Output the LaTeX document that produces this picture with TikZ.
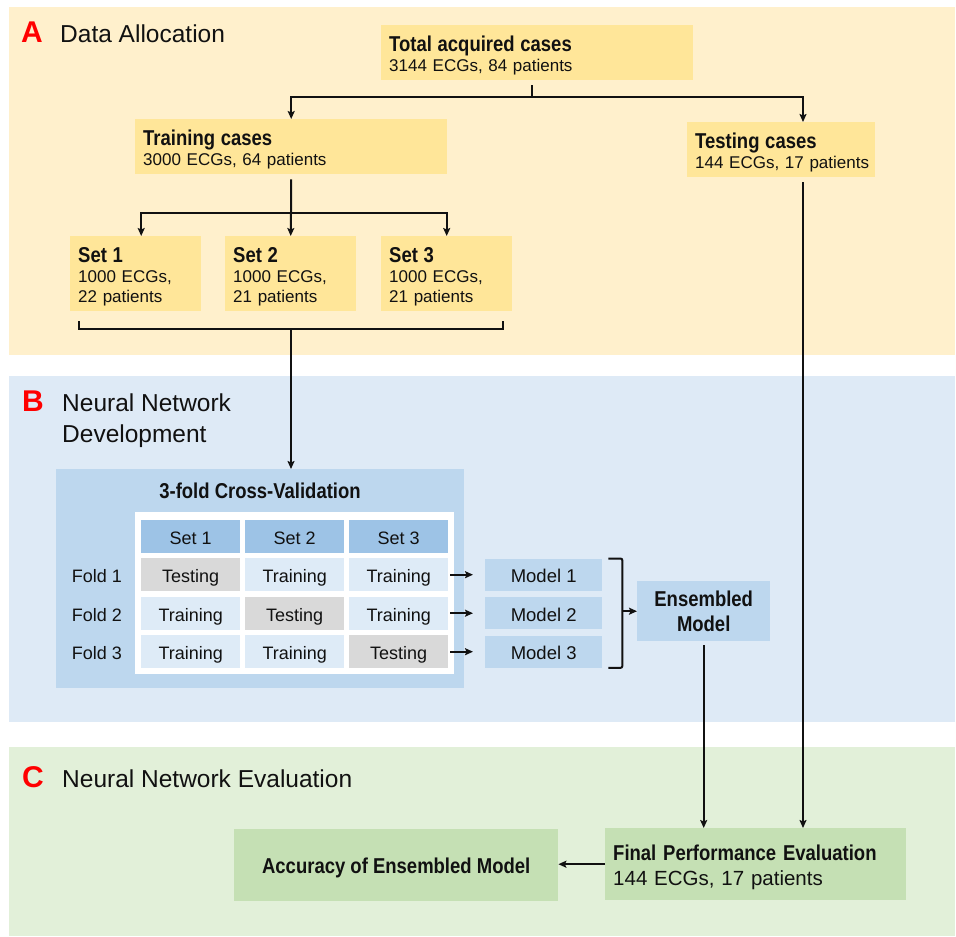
\documentclass[tikz,border=0pt]{standalone}
\usepackage{fontspec}
\setmainfont{Liberation Sans}
\newfontfamily\condfont[FakeStretch=0.86]{Liberation Sans}
\usetikzlibrary{arrows.meta}

\definecolor{ink}{HTML}{111111}
\definecolor{panelA}{HTML}{FFF0CC}
\definecolor{boxA}{HTML}{FFE699}
\definecolor{panelB}{HTML}{DEEAF6}
\definecolor{boxB}{HTML}{BDD7EE}
\definecolor{headB}{HTML}{9DC3E6}
\definecolor{cellB}{HTML}{DEEBF7}
\definecolor{cellT}{HTML}{D9D9D9}
\definecolor{panelC}{HTML}{E2F0D9}
\definecolor{boxC}{HTML}{C5E0B4}
\definecolor{tagred}{HTML}{FF0000}

\newcommand{\hdfont}{\condfont\bfseries\fontsize{21.5}{25}\selectfont}
\newcommand{\lettfont}{\bfseries\fontsize{30}{30}\selectfont}
\newcommand{\sectitlefont}{\fontsize{24.5}{31}\selectfont}
% taller first line, so the text block sits a bit lower in its box
\newcommand{\hdstrut}{\rule{0pt}{21.5pt}}

\begin{document}
\begin{tikzpicture}[x=1pt, y={(0pt,-1pt)}, text=ink,
  font=\fontsize{17}{20}\selectfont,
  link/.style={line width=2pt, draw=ink},
  arr/.style={link, -{Stealth[length=8pt,width=7pt,inset=1.5pt]}},
  ybox/.style 2 args={anchor=north west, fill=boxA, inner xsep=8pt,
    inner ysep=0pt, align=left, text width=#1, minimum height=#2},
  cell/.style={anchor=north west, inner sep=0pt, minimum width=99pt,
    minimum height=33pt, text height=16pt, text depth=0pt,
    font=\fontsize{18}{20}\selectfont},
  bbox/.style={anchor=north west, fill=boxB, inner sep=0pt},
  gbox/.style={anchor=north west, fill=boxC, inner sep=0pt},
  tag/.style={anchor=base west, inner sep=0pt, text=tagred, font=\lettfont},
  sectitle/.style={anchor=base west, inner sep=0pt, font=\sectitlefont}]
\useasboundingbox (0,0) rectangle (956,937);

% three stage panels
\fill[panelA] (9,7) rectangle (955,355);
\fill[panelB] (9,376) rectangle (955,722);
\fill[panelC] (9,747) rectangle (955,936);

\node[tag] (tagA) at (21,42) {A};
\node[sectitle] (titleA) at (60,42) {Data Allocation};
\node[tag] (tagB) at (22,411) {B};
\node[anchor=north west, inner sep=0pt, align=left, font=\sectitlefont]
  (titleB) at (62,393.5) {Neural Network\\Development};
\node[tag] (tagC) at (22,787) {C};
\node[sectitle] (titleC) at (62,787) {Neural Network Evaluation};

% --- A: data split ---
\node[ybox={296pt}{55pt}] (total) at (381,25)
  {{\hdfont\hdstrut Total acquired cases}\\3144 ECGs, 84 patients};
\node[ybox={296pt}{55pt}] (train) at (135,119)
  {{\hdfont\hdstrut Training cases}\\3000 ECGs, 64 patients};
\node[ybox={172pt}{55pt}] (test) at (687,122)
  {{\hdfont\hdstrut Testing cases}\\\mbox{144 ECGs, 17 patients}};
\node[ybox={115pt}{75pt}] (set1) at (70,236)
  {{\hdfont\hdstrut Set 1}\\1000 ECGs,\\22 patients};
\node[ybox={115pt}{75pt}] (set2) at (225,236)
  {{\hdfont\hdstrut Set 2}\\1000 ECGs,\\21 patients};
\node[ybox={115pt}{75pt}] (set3) at (381,236)
  {{\hdfont\hdstrut Set 3}\\1000 ECGs,\\21 patients};

\coordinate (splitA) at (532,97);
\coordinate (testx) at (803,0);
\coordinate (splitB) at (291,212.5);
\coordinate (gather) at (291,329);

\draw[link, shorten <=5pt] (total.south -| splitA) -- (splitA);
\draw[arr] (splitA) -| (train.north);
\draw[arr] (splitA) -| (test.north -| testx);
\draw[link, shorten <=5pt] (train.south) -- (splitB);
\draw[arr] (splitB) -| ([xshift=5.5pt]set1.north);
\draw[arr] (splitB) -- (set2.north);
\draw[arr] (splitB) -| (set3.north);
\draw[link] ([xshift=9pt,yshift=-10pt]set1.south west) -- ++(0,8)
  -| ([xshift=-9pt,yshift=-10pt]set3.south east);

% --- B: cross-validation ---
\node[bbox, minimum width=408pt, minimum height=219pt] (cv) at (56,469) {};
\node[font=\hdfont] (cvtitle) at (260,491) {3-fold Cross-Validation};
\node[anchor=north west, fill=white, inner sep=0pt, minimum width=319pt,
  minimum height=162pt] (tbl) at (135,512) {};
\draw[arr] (gather) -- (gather |- cv.north);

\foreach \k in {1,2,3} {
  \node[cell, fill=headB] (h\k) at ({141+104*(\k-1)},520) {Set \k};
  \foreach \r/\y in {1/558,2/596.5,3/635} {
    \ifnum\r=\k
      \node[cell, fill=cellT] (c\r\k) at ({141+104*(\k-1)},\y) {Testing};
    \else
      \node[cell, fill=cellB] (c\r\k) at ({141+104*(\k-1)},\y) {Training};
    \fi
  }
}
\coordinate (foldx) at (97,0);
\foreach \r in {1,2,3}
  \node[text height=16pt, text depth=0pt, inner sep=0pt,
    font=\fontsize{18}{20}\selectfont] (fold\r) at (foldx |- c\r1) {Fold \r};

\foreach \r/\y in {1/558.5,2/597,3/635.5} {
  \node[bbox, minimum width=117pt, minimum height=32pt, text height=16pt,
    text depth=0pt, font=\fontsize{18.5}{20}\selectfont] (m\r) at (485,\y)
    {Model \r};
  \draw[arr] ([xshift=2pt]c\r3.east) -- ([xshift=-12pt]m\r.west);
}
\node[bbox, minimum width=133pt, minimum height=60pt, align=center,
  font=\hdfont] (ens) at (637,581) {Ensembled\\Model};
\draw[link, rounded corners=2pt] ([xshift=6pt]m1.north east) -- ++(14,0)
  coordinate (btop) -- (btop |- m3.south) -- ([xshift=6pt]m3.south east);
\draw[arr] (btop |- ens.west) -- (ens.west);

% --- C: evaluation ---
\node[gbox, inner xsep=8pt, text width=285pt, minimum height=72pt,
  align=left, font=\fontsize{20.5}{25}\selectfont] (final) at (605,828)
  {{\hdfont\hdstrut\mbox{Final Performance Evaluation}}\\
   \mbox{144 ECGs, 17 patients}};
\node[gbox, minimum width=324pt, minimum height=72pt, text height=16pt,
  text depth=0pt, font=\hdfont] (acc) at (234,829)
  {Accuracy of Ensembled Model};
\draw[arr, shorten <=4pt] (ens.south) -- (ens.south |- final.north);
\draw[arr, shorten <=5pt] (test.south -| testx) -- (final.north -| testx);
\draw[arr] (final.west) -- (final.west -| acc.east);
\end{tikzpicture}
\end{document}
